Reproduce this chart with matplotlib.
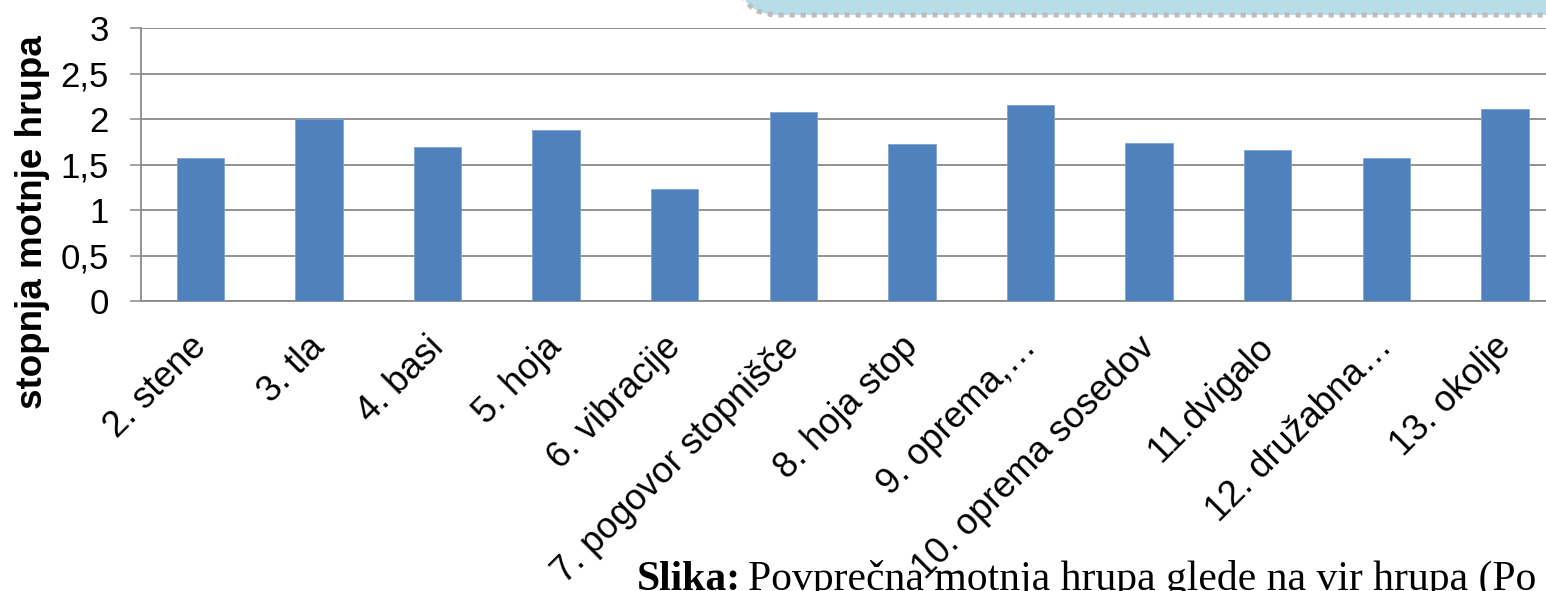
import matplotlib
matplotlib.use("Agg")
import matplotlib.pyplot as plt
import matplotlib.transforms as mtransforms
from matplotlib.patches import FancyBboxPatch
import numpy as np

categories = ["2. stene", "3. tla", "4. basi", "5. hoja", "6. vibracije",
              "7. pogovor stopnišče", "8. hoja stop", "9. oprema,…",
              "10. oprema sosedov", "11.dvigalo", "12. družabna…", "13. okolje"]
values = [1.57, 2.00, 1.69, 1.88, 1.23, 2.08, 1.73, 2.15, 1.74, 1.66, 1.57, 2.11]
yticks = [0, 0.5, 1, 1.5, 2, 2.5, 3]
yticklabels = ["0", "0,5", "1", "1,5", "2", "2,5", "3"]
ylabel = "stopnja motnje hrupa"
caption_bold = "Slika:"
caption_rest = "Povprečna motnja hrupa glede na vir hrupa (Po"

W, H = 1546, 591
fig = plt.figure(figsize=(W / 100, H / 100), dpi=100)
fig.patch.set_facecolor("white")

# background overlay in pixel coords for the callout shape and caption
bg = fig.add_axes([0, 0, 1, 1])
bg.set_xlim(0, W)
bg.set_ylim(H, 0)
bg.axis("off")
callout = FancyBboxPatch((739, -300), 1000, 315,
                         boxstyle="round,pad=0,rounding_size=40",
                         facecolor="#B7DDE8", edgecolor="#BDBDBD",
                         linewidth=3.6, linestyle=(0, (1.0, 1.2)),
                         capstyle="butt", zorder=1)
bg.add_patch(callout)

left, right, top, bottom = 141, 141 + 12 * 118.6, 28, 301
ax = fig.add_axes([left / W, 1 - bottom / H, (right - left) / W, (bottom - top) / H])
ax.set_facecolor("none")
gray = "#8A8A8A"
x = np.arange(len(categories))
ax.bar(x, values, width=0.4, color="#4F81BD", edgecolor="#7FA3D0",
       linewidth=0.6, zorder=3)
ax.set_xlim(-0.5, len(categories) - 0.5)
ax.set_ylim(0, 3)
ax.set_yticks(yticks)
ax.set_yticklabels(yticklabels, fontsize=25, family="Liberation Sans")
ax.yaxis.grid(True, color=gray, linewidth=1.3, zorder=0)
ax.set_axisbelow(True)
ax.tick_params(axis="y", direction="out", length=8, width=1.1, color=gray, pad=15)
ax.tick_params(axis="x", length=0, pad=4)
for s in ["top", "right"]:
    ax.spines[s].set_visible(False)
ax.spines["left"].set_color(gray)
ax.spines["left"].set_linewidth(1.3)
ax.spines["bottom"].set_color(gray)
ax.spines["bottom"].set_linewidth(1.3)

ax.set_xticks(x)
ax.set_xticklabels(categories, rotation=45, ha="right", va="top",
                   rotation_mode="anchor", fontsize=26, family="Liberation Sans")
offset = mtransforms.ScaledTranslation(-12 / 100, -23 / 100, fig.dpi_scale_trans)
for lab in ax.get_xticklabels():
    lab.set_transform(lab.get_transform() + offset)

ax.set_ylabel(ylabel, fontsize=26.5, fontweight="bold", family="Liberation Sans")
ax.yaxis.set_label_coords(-0.064, 0.29)

# caption
bg.text(637, 590, caption_bold, fontsize=30, fontweight="bold",
        family="Liberation Serif", va="baseline", ha="left", zorder=5)
bg.text(748, 590, caption_rest, fontsize=30,
        family="Liberation Serif", va="baseline", ha="left", zorder=5)

fig.savefig("out.png", dpi=100)
